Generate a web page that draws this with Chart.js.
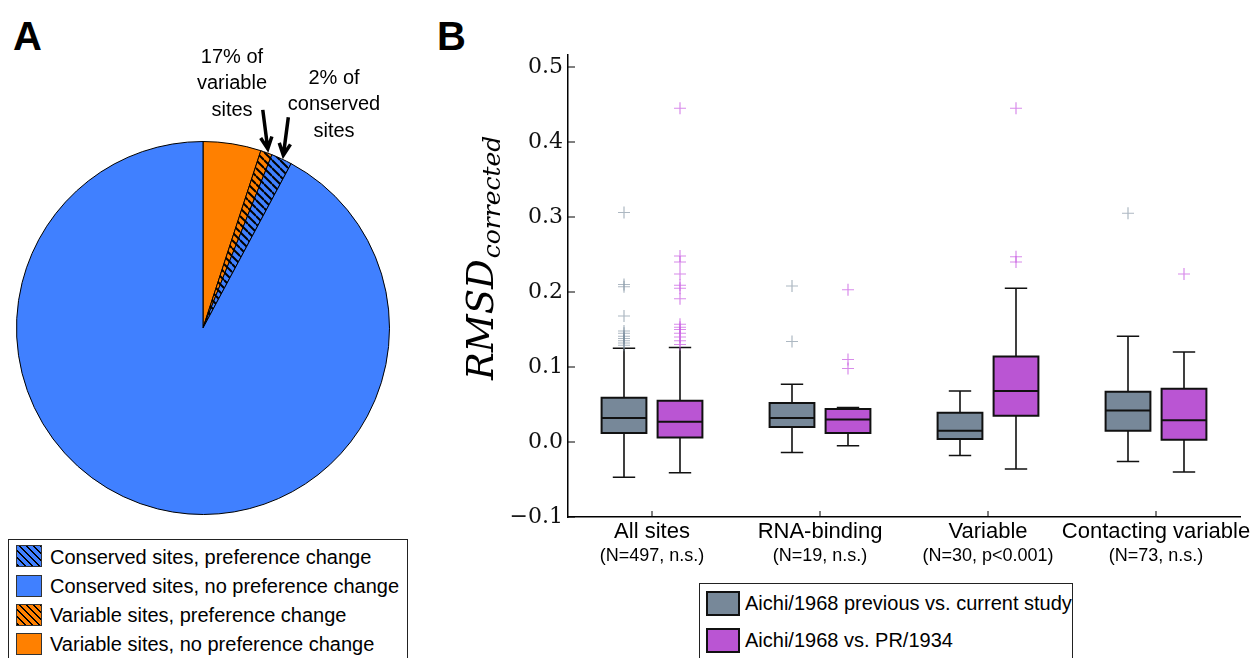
<!DOCTYPE html>
<html>
<head>
<meta charset="utf-8">
<script src="https://cdn.jsdelivr.net/npm/chart.js@4.4.0/dist/chart.umd.min.js"></script>
<style>
  body { margin: 0; background: #fff; width: 1255px; height: 658px; overflow: hidden; position: relative;
         font-family: "Liberation Sans", Arial, sans-serif; color: #000; }
  #pieChart { position: absolute; left: 0; top: 0; }
  #boxChart { position: absolute; left: 420px; top: 0; }
  .panel { position: absolute; font-weight: bold; font-size: 40px; line-height: 40px; }
  .legend { position: absolute; border: 1.5px solid #222; background: #fff; }
  .sw { position: absolute; box-sizing: border-box; }
  .lt { position: absolute; font-size: 20px; line-height: 22px; white-space: nowrap; }
</style>
</head>
<body>
<div class="panel" style="left:13px;top:16px;">A</div>
<div class="panel" style="left:437px;top:16px;">B</div>

<canvas id="pieChart" width="420" height="530"></canvas>
<canvas id="boxChart" width="835" height="580"></canvas>

<div class="legend" style="left:8px;top:539px;width:398px;height:140px;"></div>
<div class="sw" style="left:16px;top:545px;width:26px;height:22px;border:1px solid #333;background:repeating-linear-gradient(45deg,#000 0 1.6px,#4080ff 1.6px 5px);"></div>
<div class="lt" style="left:50px;top:546px;">Conserved sites, preference change</div>
<div class="sw" style="left:16px;top:575px;width:26px;height:22px;border:1px solid #333;background:#4080ff;"></div>
<div class="lt" style="left:50px;top:575px;">Conserved sites, no preference change</div>
<div class="sw" style="left:16px;top:604px;width:26px;height:22px;border:1px solid #333;background:repeating-linear-gradient(45deg,#000 0 1.6px,#ff8000 1.6px 5px);"></div>
<div class="lt" style="left:50px;top:604px;">Variable sites, preference change</div>
<div class="sw" style="left:16px;top:633px;width:26px;height:22px;border:1px solid #333;background:#ff8000;"></div>
<div class="lt" style="left:50px;top:633px;">Variable sites, no preference change</div>

<div class="legend" style="left:699px;top:583px;width:372px;height:100px;"></div>
<div class="sw" style="left:706px;top:591px;width:34px;height:25px;border:2px solid #111;background:#778899;"></div>
<div class="lt" style="left:745px;top:592px;">Aichi/1968 previous vs. current study</div>
<div class="sw" style="left:706px;top:628px;width:34px;height:25px;border:2px solid #111;background:#ba55d3;"></div>
<div class="lt" style="left:745px;top:629px;">Aichi/1968 vs. PR/1934</div>

<script>
// ---- panel A: pie of sites ----
const pieLabels = [
  'Variable sites, no preference change',
  'Variable sites, preference change',
  'Conserved sites, preference change',
  'Conserved sites, no preference change'
];
const pieCounts = [25, 5, 9, 459];
const pieNotes = [null, ['17% of', 'variable', 'sites'], ['2% of', 'conserved', 'sites'], null];

// ---- panel B: RMSD box plots ----
const categories = ['All sites', 'RNA-binding', 'Variable', 'Contacting variable'];
const categoryNotes = ['(N=497, n.s.)', '(N=19, n.s.)', '(N=30, p<0.001)', '(N=73, n.s.)'];
const yTicks = [-0.1, 0.0, 0.1, 0.2, 0.3, 0.4, 0.5];

// Aichi/1968 previous vs. current study
const prevLow    = [-0.047, -0.014, -0.018, -0.026];
const prevQ1     = [0.012, 0.020, 0.004, 0.015];
const prevMedian = [0.032, 0.032, 0.015, 0.042];
const prevQ3     = [0.059, 0.052, 0.039, 0.067];
const prevHigh   = [0.125, 0.077, 0.068, 0.141];
const prevOutliers = [
  [0.306, 0.210, 0.207, 0.168, 0.148, 0.145, 0.141, 0.138, 0.135, 0.132, 0.129],
  [0.208, 0.134],
  [],
  [0.305]
];

// Aichi/1968 vs. PR/1934
const prLow    = [-0.041, -0.005, -0.036, -0.040];
const prQ1     = [0.006, 0.012, 0.035, 0.003];
const prMedian = [0.027, 0.030, 0.068, 0.029];
const prQ3     = [0.055, 0.044, 0.114, 0.071];
const prHigh   = [0.126, 0.046, 0.205, 0.120];
const prOutliers = [
  [0.445, 0.248, 0.240, 0.224, 0.209, 0.205, 0.191, 0.157, 0.153, 0.150, 0.145, 0.140, 0.135, 0.130],
  [0.203, 0.110, 0.098],
  [0.445, 0.247, 0.240],
  [0.224]
];

const ORANGE = '#ff8000';
const BLUE = '#4080ff';
const GRAY = '#778899';
const MAGENTA = '#ba55d3';

// box i of series s sits at 3i+1+s on a 0..12 axis, group label in between
const boxPos = (i, s) => 3 * i + 1 + s;
const labelPos = i => 3 * i + 1.5;

function hatch(color) {
  const c = document.createElement('canvas');
  c.width = 8; c.height = 8;
  const g = c.getContext('2d');
  g.fillStyle = color;
  g.fillRect(0, 0, 8, 8);
  g.strokeStyle = '#000';
  g.lineWidth = 2;
  for (let k = -1; k <= 1; k++) {
    g.beginPath();
    g.moveTo(0, k * 8);
    g.lineTo(8, 8 + k * 8);
    g.stroke();
  }
  return g.createPattern(c, 'repeat');
}

function arrow(ctx, x0, y0, x1, y1) {
  const a = Math.atan2(y1 - y0, x1 - x0);
  ctx.beginPath();
  ctx.moveTo(x0, y0);
  ctx.lineTo(x1, y1);
  ctx.moveTo(x1 - 13 * Math.cos(a - 0.45), y1 - 13 * Math.sin(a - 0.45));
  ctx.lineTo(x1, y1);
  ctx.lineTo(x1 - 13 * Math.cos(a + 0.45), y1 - 13 * Math.sin(a + 0.45));
  ctx.stroke();
}

const pieNotesPlugin = {
  id: 'pieNotes',
  afterDraw(chart) {
    const ctx = chart.ctx;
    const meta = chart.getDatasetMeta(0);
    const tails = [null, [-5, -39], [5, -38]];
    const textAt = [null, [232, 57], [334, 78]];
    ctx.save();
    ctx.strokeStyle = '#000';
    ctx.lineWidth = 3.5;
    ctx.fillStyle = '#000';
    ctx.font = '20px "Liberation Sans", Arial, sans-serif';
    ctx.textAlign = 'center';
    ctx.textBaseline = 'middle';
    pieNotes.forEach((note, i) => {
      if (!note) return;
      const arc = meta.data[i];
      const p = arc.getProps(['x', 'y', 'startAngle', 'endAngle', 'outerRadius'], true);
      const mid = (p.startAngle + p.endAngle) / 2;
      const tx = p.x + Math.cos(mid) * (p.outerRadius + 4);
      const ty = p.y + Math.sin(mid) * (p.outerRadius + 4);
      arrow(ctx, tx + tails[i][0], ty + tails[i][1], tx, ty);
      note.forEach((line, k) => ctx.fillText(line, textAt[i][0], textAt[i][1] + k * 26.5));
    });
    ctx.restore();
  }
};

new Chart(document.getElementById('pieChart'), {
  type: 'pie',
  data: {
    labels: pieLabels,
    datasets: [{
      data: pieCounts,
      backgroundColor: [ORANGE, hatch(ORANGE), hatch(BLUE), BLUE],
      borderColor: '#000',
      borderWidth: 1
    }]
  },
  options: {
    responsive: false,
    animation: false,
    layout: { padding: { left: 16, top: 141, right: 30, bottom: 15 } },
    plugins: { legend: { display: false }, tooltip: { enabled: false } }
  },
  plugins: [pieNotesPlugin]
});

// ---- box plot ----
const boxPlugin = {
  id: 'boxes',
  beforeDatasetsDraw(chart) {
    const { ctx, scales: { x, y } } = chart;
    const series = [
      [prevLow, prevQ1, prevMedian, prevQ3, prevHigh, GRAY],
      [prLow, prQ1, prMedian, prQ3, prHigh, MAGENTA]
    ];
    ctx.save();
    ctx.strokeStyle = '#111';
    series.forEach(([lo, q1, med, q3, hi, color], s) => {
      categories.forEach((c, i) => {
        const cx = x.getPixelForValue(boxPos(i, s));
        const bw = x.getPixelForValue(boxPos(i, s) + 0.4) - cx;
        const cw = x.getPixelForValue(boxPos(i, s) + 0.2) - cx;
        const yl = y.getPixelForValue(lo[i]), y1 = y.getPixelForValue(q1[i]);
        const ym = y.getPixelForValue(med[i]), y3 = y.getPixelForValue(q3[i]);
        const yh = y.getPixelForValue(hi[i]);
        ctx.lineWidth = 1.6;
        ctx.beginPath();
        ctx.moveTo(cx, yl); ctx.lineTo(cx, y1);
        ctx.moveTo(cx, y3); ctx.lineTo(cx, yh);
        ctx.moveTo(cx - cw, yl); ctx.lineTo(cx + cw, yl);
        ctx.moveTo(cx - cw, yh); ctx.lineTo(cx + cw, yh);
        ctx.stroke();
        ctx.fillStyle = color;
        ctx.fillRect(cx - bw, y3, 2 * bw, y1 - y3);
        ctx.lineWidth = 2;
        ctx.strokeRect(cx - bw, y3, 2 * bw, y1 - y3);
        ctx.beginPath();
        ctx.moveTo(cx - bw, ym); ctx.lineTo(cx + bw, ym);
        ctx.stroke();
      });
    });
    ctx.restore();
  },
  afterDraw(chart) {
    const { ctx, chartArea: a, scales: { x, y } } = chart;
    ctx.save();
    ctx.strokeStyle = '#000';
    ctx.lineWidth = 1;
    // inward ticks
    y.ticks.forEach(t => {
      const py = y.getPixelForValue(t.value);
      ctx.beginPath(); ctx.moveTo(a.left, py); ctx.lineTo(a.left + 7, py); ctx.stroke();
    });
    x.ticks.forEach(t => {
      const px = x.getPixelForValue(t.value);
      ctx.beginPath(); ctx.moveTo(px, a.bottom); ctx.lineTo(px, a.bottom - 6); ctx.stroke();
    });
    // category labels
    ctx.fillStyle = '#000';
    ctx.textAlign = 'center';
    ctx.textBaseline = 'alphabetic';
    categories.forEach((c, i) => {
      const px = x.getPixelForValue(labelPos(i));
      ctx.font = '22px "Liberation Sans", Arial, sans-serif';
      ctx.fillText(c, px, a.bottom + 21);
      ctx.font = '18px "Liberation Sans", Arial, sans-serif';
      ctx.fillText(categoryNotes[i], px, a.bottom + 44);
    });
    // y title with subscript
    ctx.translate(73, 380);
    ctx.rotate(-Math.PI / 2);
    ctx.textAlign = 'left';
    ctx.font = 'italic 37px "DejaVu Serif", serif';
    ctx.fillText('RMSD', 0, 0);
    const w = ctx.measureText('RMSD').width;
    ctx.font = 'italic 25px "DejaVu Serif", serif';
    ctx.fillText('corrected', w + 1, 7);
    ctx.restore();
  }
};

const outlierPoints = (sets, s) =>
  sets.flatMap((vals, i) => vals.map(v => ({ x: boxPos(i, s), y: v })));

new Chart(document.getElementById('boxChart'), {
  type: 'scatter',
  data: {
    datasets: [{
      label: 'Aichi/1968 previous vs. current study',
      data: outlierPoints(prevOutliers, 0),
      pointStyle: 'cross',
      pointRadius: 6,
      borderWidth: 1.2,
      borderColor: 'rgba(119,136,153,0.6)'
    }, {
      label: 'Aichi/1968 vs. PR/1934',
      data: outlierPoints(prOutliers, 1),
      pointStyle: 'cross',
      pointRadius: 6,
      borderWidth: 1.2,
      borderColor: 'rgba(200,90,225,0.7)'
    }]
  },
  options: {
    responsive: false,
    animation: false,
    layout: { padding: { left: 0, top: 55, right: 15, bottom: 0 } },
    plugins: { legend: { display: false }, tooltip: { enabled: false } },
    scales: {
      x: {
        type: 'linear', min: 0, max: 12,
        grid: { display: true, drawOnChartArea: false, drawTicks: false },
        border: { display: true, color: '#000', width: 1.5 },
        ticks: { display: false },
        afterBuildTicks: s => { s.ticks = categories.map((c, i) => ({ value: labelPos(i) })); },
        afterFit: s => { s.height = 63; }
      },
      y: {
        min: -0.1, max: 0.516,
        grid: { display: true, drawOnChartArea: false, drawTicks: false },
        border: { display: true, color: '#000', width: 1.5 },
        ticks: {
          padding: 5,
          color: '#111',
          font: { family: '"DejaVu Serif", serif', size: 22 },
          callback: v => (v < -1e-9 ? '\u2212' : '') + Math.abs(v).toFixed(1)
        },
        afterBuildTicks: s => { s.ticks = yTicks.map(v => ({ value: v })); },
        afterFit: s => { s.width = 148; }
      }
    }
  },
  plugins: [boxPlugin]
});
</script>
</body>
</html>
